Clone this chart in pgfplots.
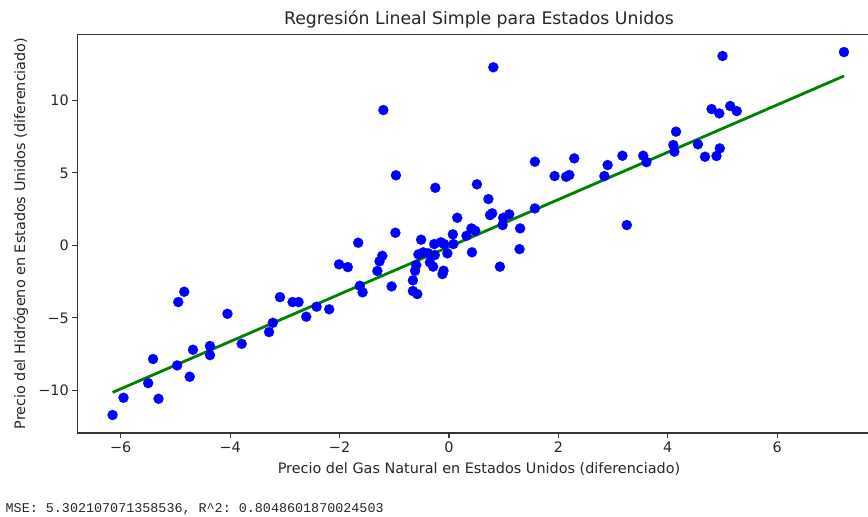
\documentclass[border=0pt]{standalone}
\usepackage{pgfplots}
\pgfplotsset{compat=1.18}
\usepackage{fontspec}
\setmainfont{DejaVu Sans}
\setmonofont{Liberation Mono}
\pgfplotstableread{
x y
-6.15 -11.70
-5.95 -10.51
-5.31 -10.58
-5.50 -9.50
-4.97 -8.28
-4.74 -9.06
-5.41 -7.84
-4.68 -7.20
-4.37 -6.94
-4.37 -7.57
-4.95 -3.91
-4.84 -3.20
-4.05 -4.72
-3.79 -6.79
-3.29 -5.98
-3.22 -5.34
-3.09 -3.57
-2.86 -3.91
-2.75 -3.91
-2.61 -4.92
-2.42 -4.23
-2.19 -4.41
-2.01 -1.31
-1.85 -1.50
-1.66 0.18
-1.63 -2.79
-1.58 -3.24
-1.31 -1.77
-1.27 -1.10
-1.22 -0.72
-1.05 -2.83
-0.98 0.87
-0.66 -2.41
-0.66 -3.15
-0.58 -3.36
-0.62 -1.75
-0.60 -1.36
-0.56 -0.62
-0.51 0.39
-0.47 -0.48
-0.35 -1.17
-0.29 -1.47
-0.38 -0.55
-0.26 -0.67
-0.27 0.09
-0.15 0.21
-0.09 0.09
-0.10 -1.75
-0.12 -1.98
-0.03 -0.55
0.07 0.76
0.08 0.09
0.15 1.90
0.32 0.66
0.41 1.17
0.48 1.01
0.42 -0.48
0.98 1.40
0.93 -1.47
1.30 1.17
1.29 -0.26
-1.20 9.33
0.81 12.28
-0.97 4.83
-0.25 3.97
0.51 4.21
0.72 3.19
0.75 2.09
0.79 2.21
0.99 1.90
1.10 2.14
1.57 5.77
1.57 2.55
1.93 4.78
2.14 4.73
2.20 4.85
2.29 6.00
7.22 13.33
5.00 13.06
4.80 9.40
4.94 9.10
5.14 9.61
5.26 9.26
4.15 7.84
4.10 6.92
4.12 6.46
4.55 6.97
4.68 6.11
4.89 6.16
4.95 6.69
3.55 6.18
3.61 5.74
3.17 6.18
2.90 5.54
2.84 4.78
3.25 1.40
}\scatterdata
\pgfplotstableread{
x y
-6.15 -10.14
7.22 11.68
}\linedata
\begin{document}
\begin{tikzpicture}[x=1bp,y=1bp]
\useasboundingbox (0,0) rectangle (868,517);
\begin{axis}[
  at={(77.3bp,84bp)}, anchor=south west,
  width=803.3bp, height=398.9bp, scale only axis,
  xmin=-6.795, xmax=7.89, ymin=-12.94, ymax=14.57,
  axis line style={line width=1.1bp, black!80},
  tick pos=left, tick align=outside,
  major tick length=5bp,
  every tick/.style={line width=1.1bp, black!80},
  xtick={-6,-4,-2,0,2,4,6},
  xticklabels={−6,−4,−2,0,2,4,6},
  ytick={-10,-5,0,5,10},
  yticklabels={−10,−5,0,5,10},
  ticklabel style={font=\fontsize{14.4bp}{17bp}\selectfont, text=black!85},
]
\addplot[only marks, blue, mark=*, mark size=5.1bp, mark options={solid, draw=blue, fill=blue, line width=0.1bp}] table[x=x,y=y] {\scatterdata};
\addplot[no marks, line width=2.8bp, color={rgb,255:red,0;green,128;blue,0}] table[x=x,y=y] {\linedata};
\end{axis}
\node[anchor=base, font=\fontsize{17.3bp}{20bp}\selectfont, text=black!85] at (479,492) {Regresión Lineal Simple para Estados Unidos};
\node[anchor=base, font=\fontsize{14.4bp}{17bp}\selectfont, text=black!85] at (479,43) {Precio del Gas Natural en Estados Unidos (diferenciado)};
\node[anchor=base, rotate=90, font=\fontsize{14.4bp}{17bp}\selectfont, text=black!85] at (25,283.5) {Precio del Hidrógeno en Estados Unidos (diferenciado)};
\node[anchor=base west, inner sep=0pt, font=\ttfamily\fontsize{13.4bp}{16bp}\selectfont, text=black!85] at (5.5,4) {MSE: 5.302107071358536, R\^{}2: 0.8048601870024503};
\end{tikzpicture}
\end{document}
